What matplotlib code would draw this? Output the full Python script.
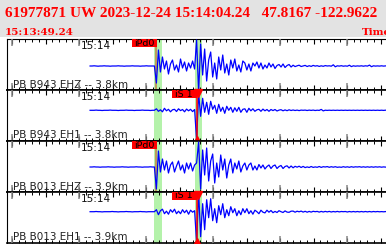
import numpy as np
import matplotlib.pyplot as plt
from matplotlib.patches import Rectangle

# times are seconds after the window start 15:13:49.24
title = '61977871 UW 2023-12-24 15:14:04.24   47.8167 -122.9622'
start_label = '15:13:49.24'
stations = ['PB B943 EHZ -- 3.8km', 'PB B943 EH1 -- 3.8km',
            'PB B013 EHZ -- 3.9km', 'PB B013 EH1 -- 3.9km']
pick_labels = ['iPd0', 'iS 1', 'iPd0', 'iS 1']
pick_phase = ['P', 'S', 'P', 'S']
p_time = 22.35
s_time = 28.3
p_window = (22.0, 23.1)
s_window = (28.0, 29.1)
minute_mark = 10.76   # 15:14:00
trace_start = 12.4
dt = 0.3
offsets = [-1.5, 5.2, -0.5, 5.8]

b943_ehz = [0, 0, 0.2, 0, -0.2, 0, 0, 0.2, 0, 0,
            -0.2, 0, 0, 0, 0.2, 0, 0, -0.2, 0, 0,
            0, 0.2, 0, 0, 0, -0.2, 0, 0, 0.2, 0,
            0, 0, 0, -17, 16, -6, 9, -3, 5, -8,
            2, 6, -4, 1, -6, 7, -2, 4, -5, 3,
            -2, 5, -3, 26, -26, 22, -9, 17, -15, 6,
            14, -11, 3, -13, 9, -4, 11, -7, 2, -9,
            6, -2, 7, -5, 1, -6, 5, 3, -4, 2,
            -5, 3, 0, 4, -2, 3, -3, 1, -2, 3,
            -1, 2, -2.5, 0.5, 1.5, -1, 2, -1.5, 0.5, 1.5,
            -1, 0.8, -0.6, 0.2, 0.8, -0.5, 0.1, 0.6, -0.5, 0.3,
            -0.4, 0.6, -0.1, 0.3, -0.4, 0.2, -0.3, 0.4, 0, 0.2,
            -0.2, 1.2, -0.8, 0.2, -0.1, 0.3, -0.2, 0.1, -0.2, 0.8,
            -0.6, 0.2, -0.2, 0.1, -0.1, 0.2, -0.2, 0.2, -0.1, 0.9,
            -0.7, 0.2, -0.1, 0.1, -0.1, 0.2, -0.1, 0.1]

b943_eh1 = [0, 0, 0, 0.2, 0, 0, -0.2, 0, 0, 0,
            0.2, 0, 0, 0, -0.2, 0, 0, 0, 0.2, 0,
            0, 0, -0.2, 0, 0, 0, 0.2, 0, 0, 0,
            -0.2, 0, 0, 1.5, -1, 0.5, -1.5, 2, -0.5, 1,
            -1.5, 0.5, 1, -1.2, 1.5, -0.3, 0.8, -1.5, 1.2, -0.5,
            1, -1.3, 0.8, -30, 17, -6, 12, -2, 8, -4,
            9, 1, 5, -3, 6, -1, 3, -3, 4, 0,
            3, -2, 2.5, -1, 3, -2, 1, 1.5, -2, 2,
            -0.5, 1.5, -1, 0.5, 1, -1, 1.2, -0.5, 0.8, -1,
            0.8, -0.3, 0.8, -0.7, 0.2, 0.6, -0.5, 0.4, -0.4, 0.5,
            -0.2, 0.3, -0.2, 0.2, -0.3, 0.2, 0, 0.2, -0.2, 0.2,
            -0.1, 0.2, -0.2, 0.1, -0.1, 0.9, -0.6, 0.1, -0.1, 0.1,
            -0.1, 0.1, -0.1, 0.1, -0.1, 0.1, -0.1, 0.1, -0.1, 0.1,
            -0.1, 0.1, -0.1, 0.1, -0.1, 0.1, -0.1, 0.1, -0.1, 0.1,
            -0.1, 0.1, -0.1, 0.1, -0.1, 0.1, -0.1, 0.1]

b013_ehz = [0, 0, 0.2, 0, 0, -0.2, 0, 0, 0, 0.2,
            0, 0, -0.2, 0, 0, 0, 0.2, 0, 0, -0.2,
            0, 0, 0, 0.2, 0, 0, -0.2, 0, 0, 0,
            0.2, 0, 0, -22, 16, -5, 8, -3, 6, -6,
            2, 5, -5, 1, 6, -3, 2, -6, 4, -2,
            4, -4, 2, 4, 25, -22, 17, -8, 19, -14,
            6, 13, -16, 4, -10, 12, -3, 8, -11, 2,
            8, -6, 4, -2, 6, -5, 1, 4, -3, 2,
            4, -3, 1, -3, 2.5, -1, 2, -2, 0.5, 2,
            -1.5, 1, 2, -1.5, 0.5, 1.5, -1.5, 0.5, 1.2, -1,
            1, -0.8, 0.7, -0.2, 0.8, -0.5, 0.6, -0.6, 0.1, -0.5,
            0.5, -0.4, 0.1, -0.3, 0.5, -0.4, 0.3, 0, 0.4, -0.3,
            0.3, -0.2, 0.3, -0.3, 0, -0.3, 0.3, -0.2, 0.2, -0.3,
            0.3, -0.2, 0.2, 0, 0.3, -0.2, 0.2, -0.2, 0.2, -0.2,
            0.2, -0.2, 0.2, -0.1, 0.2, -0.2, 0.1, -0.1]

b013_eh1 = [0, 0, 0, 0.2, 0, 0, -0.2, 0, 0, 0,
            0, 0.2, 0, 0, -0.2, 0, 0, 0, 0.2, 0,
            0, -0.2, 0, 0, 0, 0.2, 0, 0, -0.2, 0,
            0, 0, 0, 2, -3, 1, 2.5, -2, 0.5, -2.5,
            2, -0.5, 2.5, -2, 0.5, -2, 2, -1, 1.5, -2.5,
            1.5, -0.5, 1, -31, 20, -25, 8, -18, 12, -6,
            13, -9, 3, -11, 6, -3, 8, -6, 2, -4,
            5, -1, 3, -4, 1, -3, 3, -1, 3, -2,
            1, -2.5, 1.5, 0, -2, 1.5, -0.5, -1.2, 1.5, -0.5,
            1.2, -1, 0.3, -0.8, 1, 0, -0.8, 0.8, -0.4, -0.6,
            0.5, 0.6, -0.5, 0.5, -0.1, 0.6, -0.4, 0.4, -0.5, 0.3,
            -0.4, 0.4, 0, 0.3, -0.4, 0.3, -0.3, 0.3, -0.2, 0.3,
            -0.3, 0.2, -0.2, 0.3, -0.2, 0.2, 0, 0.2, -0.3, 0.2,
            -0.2, 0.2, -0.2, 0.2, -0.2, 0.2, -0.2, 0.2, -0.2, 0.2,
            -0.2, 0.2, -0.1, 0.2, -0.1, 0.1, -0.1, 0.1]

traces = [b943_ehz, b943_eh1, b013_ehz, b013_eh1]

W, H = 386, 244
fig = plt.figure(figsize=(W / 100, H / 100), dpi=100)
fig.add_artist(Rectangle((0, 1 - 37 / H), 1, 37 / H, transform=fig.transFigure,
                         facecolor='#e3e3e3', edgecolor='none', zorder=0))
fig.text(5 / W, 1 - 17 / H, title, family='Liberation Serif', weight='bold',
         size=11, color='red', va='baseline')
fig.text(5 / W, 1 - 35 / H, start_label, family='DejaVu Serif', weight='bold',
         size=7.5, color='red', va='baseline')
fig.text(362 / W, 1 - 35 / H, 'Time', family='DejaVu Serif', weight='bold',
         size=7.5, color='red', va='baseline')

left = 7
px_per_s = 6.7
tops = [39, 90, 141, 192]
ph = 51
xmax = (W - left) / px_per_s

for i, tr in enumerate(traces):
    ax = fig.add_axes([left / W, 1 - (tops[i] + ph) / H, 1 - left / W, ph / H])
    ax.set_xlim(0, xmax)
    ax.set_ylim(-ph / 2, ph / 2)
    ax.set_yticks([])
    xt = ax.get_xaxis_transform()

    ax.axvspan(*p_window, color='#b4f2aa', lw=0, zorder=1)
    ax.axvspan(*s_window, color='#b4f2aa', lw=0, zorder=1)

    t = trace_start + dt * np.arange(len(tr))
    ax.plot(t, np.array(tr) + offsets[i], color='#0000ff', lw=0.9, zorder=3)

    box_h = 8 / ph
    if pick_phase[i] == 'P':
        ax.axvspan(p_time - 3.7, p_time, ymin=1 - box_h, ymax=1,
                   color='red', lw=0, zorder=7)
        ax.text(p_time - 3.45, 1 - box_h / 2, pick_labels[i], transform=xt,
                size=6.8, va='center', ha='left', color='black', zorder=8)
        ax.vlines(p_time - 0.1, -ph / 2, ph / 2 - 7, color='#c08048', lw=1.1, zorder=2)
    else:
        ax.axvspan(s_time - 3.7, s_time, ymin=1 - box_h, ymax=1,
                   color='red', lw=0, zorder=7)
        ax.text(s_time - 3.2, 1 - box_h / 2, pick_labels[i], transform=xt,
                size=6.8, va='center', ha='left', color='black', zorder=8)
        ax.vlines(s_time, -ph / 2, ph / 2, color='red', lw=1.1, zorder=4)
        ax.plot([s_time + 0.2], [ph / 2 - 3], marker='v', ms=6, color='red',
                clip_on=False, zorder=7)
        ax.plot([s_time + 0.1], [-ph / 2 + 2], marker='^', ms=5, color='red',
                clip_on=False, zorder=4)

    # second ticks, 5 s ticks, 10 s gray ticks
    ax.set_xticks(np.arange(0.76, xmax, 5))
    ax.set_xticks(np.arange(0.76, xmax, 1), minor=True)
    ax.tick_params(which='major', direction='in', length=3.8, width=0.8,
                   top=True, bottom=True, labelbottom=False)
    ax.tick_params(which='minor', direction='in', length=2.2, width=0.7,
                   top=True, bottom=True)
    tens = np.arange(0.76, xmax, 10)
    ax.vlines(tens, 0, 7 / ph, transform=xt, color='#888888', lw=1.1, zorder=6)
    ax.vlines(tens, 1 - 7 / ph, 1, transform=xt, color='#888888', lw=1.1, zorder=6)

    ax.text(minute_mark + 0.3, 1 - 2 / ph, '15:14', transform=xt, size=7.5,
            va='top', ha='left', color='#111111', zorder=5)
    ax.text(6 / px_per_s, 2.5 / ph, stations[i], transform=xt, size=7.5,
            va='baseline', ha='left', color='#222222', zorder=5)

    ax.spines['right'].set_visible(False)
    ax.spines['left'].set_linewidth(0.8)
    ax.spines['top'].set_linewidth(1.2 if i > 0 else 0.8)
    ax.spines['bottom'].set_linewidth(1.2)

fig.savefig('out.png', dpi=100)
